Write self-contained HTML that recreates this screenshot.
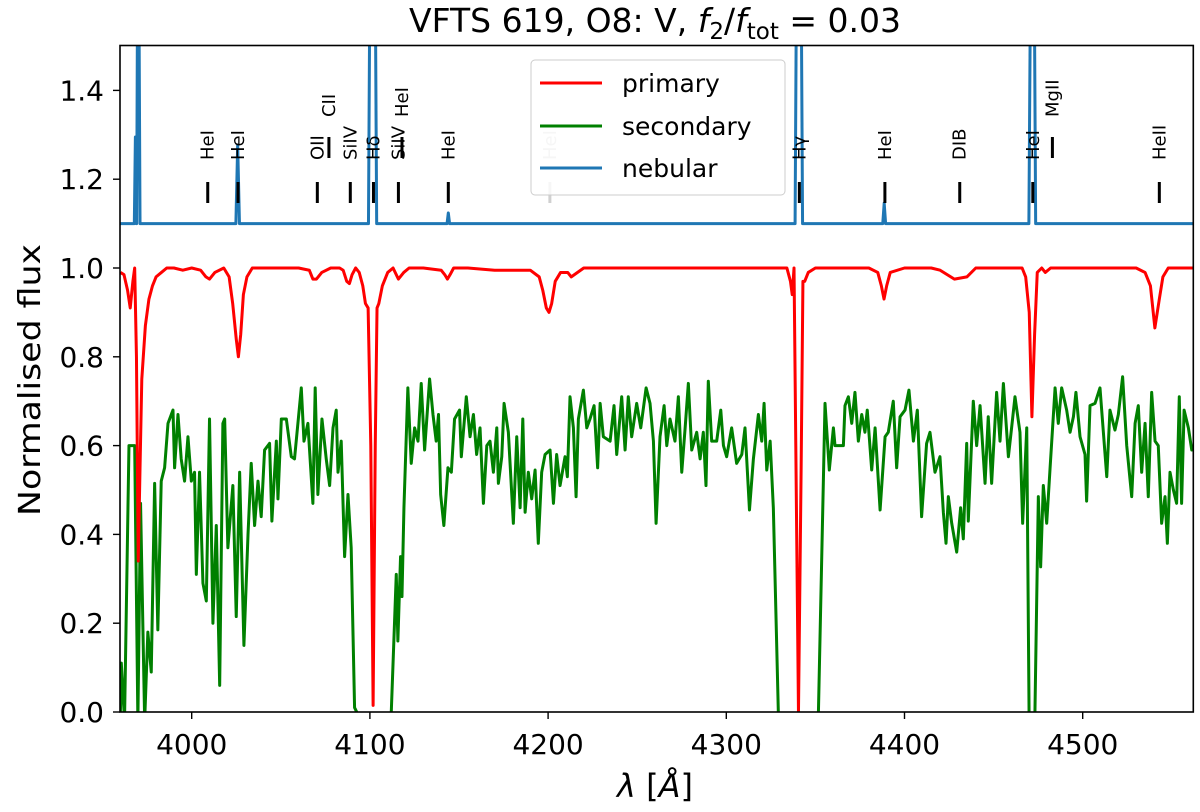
<!DOCTYPE html>
<html><head><meta charset="utf-8"><style>
html,body{margin:0;padding:0;background:#fff;overflow:hidden;width:1200px;height:812px;}
svg{display:block;font-family:"DejaVu Sans","Liberation Sans",sans-serif;overflow:hidden;}
</style></head><body>
<svg id="chart" width="1200" height="812" viewBox="0 0 1200 812">
<defs><clipPath id="clip"><rect x="120" y="45.5" width="1073.3" height="666.5"/></clipPath></defs>
<text x="655" y="32" text-anchor="middle" font-size="33">VFTS 619, O8: V, <tspan font-style="italic">f</tspan><tspan font-size="23" dy="7">2</tspan><tspan dy="-7">/</tspan><tspan font-style="italic">f</tspan><tspan font-size="23" dy="7">tot</tspan><tspan dy="-7"> = 0.03</tspan></text>
<g id="series" clip-path="url(#clip)"></g>
<g id="marks"></g>
<g id="axes"></g>
<text x="40" y="380" transform="rotate(-90 40 380)" text-anchor="middle" font-size="30" textLength="272" lengthAdjust="spacingAndGlyphs">Normalised flux</text>
<text x="655" y="797" text-anchor="middle" font-size="32"><tspan font-style="italic">λ</tspan> [<tspan font-style="italic">Å</tspan>]</text>
<g id="legend">
<rect x="531" y="60" width="254" height="135" rx="4" fill="#fff" fill-opacity="0.8" stroke="#ccc" stroke-width="1"/>
<line x1="540" y1="83" x2="602" y2="83" stroke="#ff0000" stroke-width="3"/>
<text x="622" y="92" font-size="25">primary</text>
<line x1="540" y1="126" x2="602" y2="126" stroke="#008000" stroke-width="3"/>
<text x="622" y="135" font-size="25">secondary</text>
<line x1="540" y1="168" x2="602" y2="168" stroke="#1f77b4" stroke-width="3"/>
<text x="622" y="177" font-size="25">nebular</text>
</g>
</svg>
<script>
const xTicks = [4000, 4100, 4200, 4300, 4400, 4500];
const yTicks = [0.0, 0.2, 0.4, 0.6, 0.8, 1.0, 1.2, 1.4];
const yTickLabels = ["0.0","0.2","0.4","0.6","0.8","1.0","1.2","1.4"];
const redPts = [[3960,0.99],[3962,0.985],[3964,0.95],[3965.5,0.91],[3967,0.97],[3968,1.0],[3969,0.8],[3970,0.34],[3971,0.55],[3972,0.75],[3974,0.87],[3976,0.93],[3978,0.96],[3980,0.98],[3983,0.99],[3986,1.0],[3990,1.0],[3995,0.995],[4000,1.0],[4005,0.995],[4008,0.98],[4010,0.975],[4013,0.99],[4018,1.0],[4021,0.98],[4023,0.92],[4025,0.84],[4026.2,0.80],[4027.5,0.85],[4029,0.94],[4031,0.98],[4034,1.0],[4040,1.0],[4050,1.0],[4060,1.0],[4066,0.995],[4068,0.975],[4070,0.975],[4073,0.99],[4078,1.0],[4083,1.0],[4085,0.995],[4087,0.97],[4088.5,0.965],[4090,0.985],[4092,1.0],[4094,0.99],[4096,0.96],[4097.5,0.92],[4099,0.91],[4100.5,0.6],[4101.8,0.015],[4103,0.6],[4104,0.91],[4105,0.92],[4107,0.96],[4110,0.99],[4113,1.0],[4116,0.975],[4119,0.99],[4122,1.0],[4130,1.0],[4140,0.995],[4142,0.985],[4143.5,0.975],[4145,0.985],[4147,1.0],[4155,1.0],[4170,0.995],[4190,0.995],[4195,0.98],[4197,0.95],[4199,0.91],[4200.5,0.90],[4202,0.92],[4204,0.97],[4207,0.99],[4211,0.99],[4213,0.98],[4220,1.0],[4250,1.0],[4300,1.0],[4330,1.0],[4334,1.0],[4336,0.97],[4337,0.94],[4338,1.0],[4339,0.6],[4340.5,0.0],[4342,0.55],[4343,0.97],[4344,0.97],[4346,0.99],[4350,1.0],[4380,1.0],[4385,0.99],[4387,0.96],[4388.5,0.93],[4390,0.96],[4392,0.99],[4400,1.0],[4415,1.0],[4420,0.995],[4428,0.975],[4435,0.98],[4440,1.0],[4460,1.0],[4466,1.0],[4468,0.98],[4470,0.9],[4471.5,0.665],[4473,0.85],[4474.5,0.99],[4477,1.0],[4479,0.99],[4482,1.0],[4500,1.0],[4530,1.0],[4535,0.99],[4538,0.96],[4540.5,0.865],[4543,0.93],[4545,0.98],[4548,1.0],[4562,1.0]];
const greenPts = [[3960,0.0],[3960.5,0.11],[3962.3,-0.05],[3964.8,0.6],[3968.0,0.6],[3969.8,-0.05],[3971.3,0.47],[3973.6,-0.05],[3975.4,0.18],[3977.3,0.09],[3979.2,0.515],[3981.0,0.185],[3982.9,0.52],[3984.8,0.55],[3986.7,0.65],[3989.5,0.68],[3990.4,0.55],[3992.3,0.67],[3994.1,0.57],[3996.0,0.52],[3997.9,0.62],[3999.8,0.52],[4001.6,0.54],[4002.6,0.31],[4004.4,0.54],[4006.3,0.29],[4008.2,0.25],[4010.0,0.66],[4011.9,0.20],[4013.8,0.42],[4015.7,0.06],[4017.5,0.65],[4018.5,0.66],[4020.3,0.37],[4023.1,0.51],[4025.0,0.215],[4026.9,0.54],[4029.3,0.15],[4031.6,0.40],[4033.4,0.56],[4035.3,0.42],[4037.2,0.52],[4039.0,0.44],[4040.9,0.59],[4043.7,0.605],[4045.0,0.43],[4047.5,0.61],[4048.4,0.48],[4050.3,0.66],[4053.1,0.66],[4055.9,0.575],[4057.7,0.57],[4061.5,0.73],[4063.0,0.61],[4065.2,0.65],[4068.0,0.47],[4069.3,0.73],[4070.8,0.49],[4073.1,0.66],[4075.5,0.57],[4077.4,0.51],[4079.3,0.64],[4081.1,0.68],[4082.1,0.54],[4083.9,0.61],[4085.8,0.35],[4087.7,0.49],[4089.5,0.37],[4091.4,0.01],[4095,-0.4],[4109,-0.4],[4112.0,0.0],[4114.8,0.31],[4115.7,0.16],[4117.2,0.35],[4118.0,0.26],[4119.1,0.46],[4121.3,0.73],[4123.2,0.56],[4125.1,0.64],[4127.0,0.61],[4128.8,0.74],[4130.7,0.59],[4133.5,0.75],[4135.4,0.67],[4137.2,0.61],[4138.5,0.67],[4139.7,0.49],[4141.5,0.42],[4143.8,0.55],[4145.7,0.54],[4147.5,0.66],[4150.3,0.68],[4151.3,0.575],[4154.1,0.71],[4156.2,0.62],[4158.1,0.67],[4159.9,0.58],[4161.8,0.64],[4163.7,0.47],[4165.6,0.60],[4167.4,0.61],[4169.3,0.54],[4171.2,0.64],[4172.1,0.515],[4174.0,0.575],[4175.3,0.695],[4177.7,0.63],[4180.5,0.425],[4182.4,0.62],[4184.3,0.46],[4185.8,0.66],[4187.1,0.45],[4188.9,0.54],[4190.8,0.48],[4192.7,0.545],[4194.5,0.38],[4196.4,0.54],[4198.3,0.58],[4201.1,0.59],[4203.0,0.47],[4204.8,0.58],[4206.7,0.51],[4209.5,0.575],[4210.8,0.53],[4212.3,0.71],[4214.2,0.64],[4215.7,0.485],[4217.0,0.66],[4219.8,0.725],[4221.7,0.64],[4223.5,0.66],[4225.8,0.69],[4227.8,0.55],[4229.2,0.695],[4231.0,0.62],[4234.8,0.61],[4237.0,0.69],[4238.5,0.58],[4241.3,0.71],[4243.2,0.59],[4245.0,0.71],[4246.9,0.62],[4249.7,0.695],[4252.0,0.64],[4255.0,0.73],[4257.2,0.695],[4259.1,0.61],[4260.6,0.425],[4262.8,0.62],[4265.1,0.69],[4266.6,0.60],[4268.4,0.66],[4271.2,0.61],[4273.1,0.71],[4275.0,0.54],[4276.9,0.64],[4278.7,0.74],[4280.6,0.59],[4283.4,0.63],[4285.3,0.57],[4287.1,0.63],[4288.6,0.51],[4289.9,0.745],[4291.8,0.61],[4294.6,0.61],[4296.9,0.68],[4298.4,0.60],[4300.2,0.575],[4303.0,0.64],[4305.8,0.56],[4308.7,0.58],[4310.5,0.64],[4313.0,0.455],[4315.2,0.57],[4318.0,0.67],[4319.9,0.61],[4321.2,0.695],[4322.7,0.545],[4324.6,0.61],[4326.4,0.46],[4329.2,0.0],[4333,-0.4],[4348,-0.4],[4351.7,0.0],[4355.4,0.695],[4357.8,0.545],[4360.1,0.64],[4361.0,0.60],[4365.7,0.60],[4366.6,0.69],[4368.5,0.71],[4370.4,0.65],[4372.2,0.72],[4374.1,0.61],[4376.0,0.67],[4377.8,0.63],[4379.1,0.68],[4381.6,0.545],[4383.5,0.64],[4386.3,0.455],[4389.1,0.62],[4390.9,0.63],[4393.7,0.70],[4395.6,0.55],[4397.5,0.665],[4400.3,0.68],[4402.5,0.725],[4405.0,0.61],[4407.2,0.68],[4409.6,0.44],[4412.4,0.605],[4414.3,0.63],[4417.1,0.54],[4419.9,0.575],[4421.8,0.45],[4423.3,0.38],[4424.6,0.485],[4426.5,0.425],[4429.3,0.36],[4431.5,0.46],[4433.0,0.39],[4434.9,0.605],[4435.8,0.43],[4438.6,0.70],[4440.5,0.60],[4442.4,0.69],[4445.2,0.515],[4447.0,0.665],[4448.9,0.515],[4451.7,0.72],[4453.6,0.61],[4455.5,0.74],[4458.3,0.575],[4460.1,0.64],[4462.0,0.71],[4464.8,0.63],[4466.3,0.425],[4468.6,0.64],[4469.9,0.0],[4471,-0.4],[4472.5,-0.4],[4473.2,0.0],[4475.1,0.485],[4476.4,0.327],[4477.9,0.51],[4479.8,0.425],[4481.7,0.55],[4484.5,0.73],[4486.3,0.65],[4488.2,0.73],[4491.0,0.68],[4492.9,0.63],[4494.8,0.665],[4496.2,0.72],[4498.5,0.62],[4501.3,0.58],[4502.2,0.475],[4504.1,0.69],[4506.9,0.695],[4509.7,0.73],[4513.5,0.53],[4515.3,0.68],[4518.1,0.635],[4520.0,0.67],[4522.4,0.755],[4524.7,0.60],[4527.5,0.485],[4529.4,0.65],[4531.2,0.69],[4533.1,0.54],[4535.0,0.65],[4536.8,0.485],[4538.7,0.72],[4540.6,0.61],[4542.4,0.60],[4544.3,0.425],[4546.2,0.485],[4547.5,0.38],[4549.0,0.54],[4550.9,0.50],[4552.7,0.47],[4554.2,0.71],[4555.5,0.47],[4556.9,0.68],[4559.3,0.64],[4561.2,0.59],[4562,0.6]];
const bluePts = [[3960,1.1],[3967.8,1.1],[3968.4,1.295],[3968.9,1.1],[3969.1,1.1],[3969.5,1.7],[3970.5,1.7],[3971,1.1],[4024.8,1.1],[4025.8,1.277],[4026.8,1.1],[4099.2,1.1],[4099.8,1.7],[4103.2,1.7],[4103.8,1.1],[4143.3,1.1],[4144,1.124],[4144.7,1.1],[4338.6,1.1],[4339.2,1.7],[4342.2,1.7],[4342.8,1.1],[4387.8,1.1],[4388.6,1.146],[4389.4,1.1],[4469.8,1.1],[4470.5,1.7],[4473,1.7],[4473.6,1.1],[4562,1.1]];
const lineNames = ["HeI","HeI","OII","CII","SiIV","Hδ","SiIV","HeI","HeI","HeI","Hγ","HeI","DIB","HeI","MgII","HeII"];
const lineLams = [4009,4026,4070.5,4077,4089,4102,4116,4118,4144,4201,4341,4389,4431,4472,4483,4543];
const lineRaised = [0,0,0,1,0,0,0,1,0,0,0,0,0,0,1,0];

const X0 = 191.7, XS = 1.782, Y0 = 712, YS = 444;
function xs(l){ return X0 + (l - 4000) * XS; }
function ys(v){ return Y0 - Math.max(-0.02, Math.min(1.52, v)) * YS; }
const NS = "http://www.w3.org/2000/svg";
function mk(tag, attrs, parent){ const e = document.createElementNS(NS, tag); for (const k in attrs) e.setAttribute(k, attrs[k]); parent.appendChild(e); return e; }

const series = document.getElementById('series');
function drawSeries(pts, color, name){
  const d = pts.map((p,i)=> (i?'L':'M') + xs(p[0]).toFixed(2) + ' ' + ys(p[1]).toFixed(2)).join(' ');
  const p = mk('path', {d:d, fill:'none', stroke:color, 'stroke-width':3, 'stroke-linejoin':'round'}, series);
  
  
}
drawSeries(bluePts, '#1f77b4', 'nebular-series');
drawSeries(greenPts, '#008000', 'secondary-series');
drawSeries(redPts, '#ff0000', 'primary-series');

const marks = document.getElementById('marks');
lineLams.forEach((l, i) => {
  const x = xs(l);
  const raised = lineRaised[i] === 1;
  const y1 = raised ? 137 : 182, y2 = raised ? 158 : 203;
  const grey = (i === 9);
  const col = grey ? '#d0d0d0' : '#000';
  const t = mk('line', {x1:x, y1:y1, x2:x, y2:y2, stroke:col, 'stroke-width':3}, marks);
  
  
  const ty = raised ? 117 : 160;
  const tx = mk('text', {x:x + 6, y:ty, transform:`rotate(-90 ${x + 6} ${ty})`, 'font-size':18, fill:col}, marks);
  tx.textContent = lineNames[i];
  
  
});

const axes = document.getElementById('axes');
const frame = mk('rect', {x:120, y:45.5, width:1073.3, height:666.5, fill:'none', stroke:'#000', 'stroke-width':1.6}, axes);


xTicks.forEach(v => {
  const x = xs(v);
  const t = mk('line', {x1:x, y1:712, x2:x, y2:719, stroke:'#000', 'stroke-width':1.4}, axes);
  
  
  const l = mk('text', {x:x, y:754, 'text-anchor':'middle', 'font-size':28}, axes);
  l.textContent = String(v);
  
  
});
yTicks.forEach((v, i) => {
  const y = Y0 - v * YS;
  const t = mk('line', {x1:113, y1:y, x2:120, y2:y, stroke:'#000', 'stroke-width':1.4}, axes);
  
  
  const l = mk('text', {x:104, y:y + 10, 'text-anchor':'end', 'font-size':28}, axes);
  l.textContent = yTickLabels[i];
  
  
});
</script>
</body></html>
